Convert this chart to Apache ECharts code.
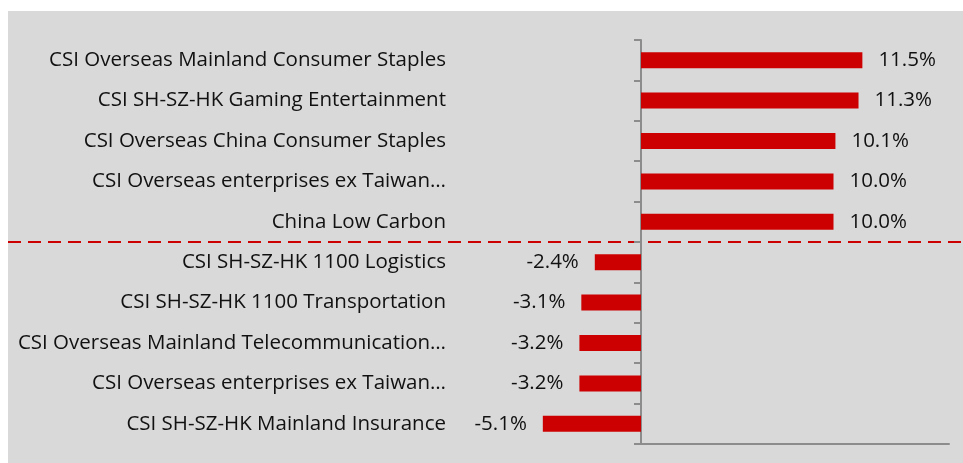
<!DOCTYPE html>
<html><head><meta charset="utf-8">
<script src="https://cdn.jsdelivr.net/npm/echarts@6/dist/echarts.min.js"></script>
<style>
html,body{margin:0;padding:0;background:#fff;width:963px;height:463px;overflow:hidden;}
#c{position:absolute;left:8px;top:11px;width:955px;height:452px;background:#d9d9d9;}
</style></head><body>
<div id="c"></div>
<script>
const categories = [
  "CSI Overseas Mainland Consumer Staples",
  "CSI SH-SZ-HK Gaming Entertainment",
  "CSI Overseas China Consumer Staples",
  "CSI Overseas enterprises ex Taiwan…",
  "China Low Carbon",
  "CSI SH-SZ-HK 1100 Logistics",
  "CSI SH-SZ-HK 1100 Transportation",
  "CSI Overseas Mainland Telecommunication…",
  "CSI Overseas enterprises ex Taiwan…",
  "CSI SH-SZ-HK Mainland Insurance"
];
const values = [11.5, 11.3, 10.1, 10.0, 10.0, -2.4, -3.1, -3.2, -3.2, -5.1];
const dividerAfter = 4; // dashed line between the 5th and 6th category

const FONT = "Open Sans";
const FS = 20.5;
const chart = echarts.init(document.getElementById('c'));
const data = values.map(v => ({
  value: v,
  label: { position: v < 0 ? 'left' : 'right' }
}));
chart.setOption({
  animation: false,
  textStyle: { fontFamily: FONT },
  grid: [
    { left: 479, right: 14, top: 29, bottom: 19, containLabel: false, outerBoundsMode: 'none' },
    { left: 633, right: 14, top: 29, bottom: 19, containLabel: false, outerBoundsMode: 'none' }
  ],
  xAxis: [
    { gridIndex: 0, type: 'value', min: -8, max: 16, show: false },
    { gridIndex: 1, type: 'value', min: 0, max: 16,
      axisLine: { show: true, lineStyle: { color: '#8c8c8c', width: 2 } },
      axisTick: { show: false }, axisLabel: { show: false }, splitLine: { show: false } }
  ],
  yAxis: [
    { gridIndex: 0, type: 'category', data: categories, inverse: true,
      axisLine: { show: true, onZero: true, lineStyle: { color: '#8c8c8c', width: 2 } },
      axisTick: { show: true, length: 7, lineStyle: { color: '#8c8c8c', width: 2 } },
      axisLabel: { margin: 41, color: '#111', fontSize: FS, fontFamily: FONT },
      splitLine: { show: false } },
    { gridIndex: 1, type: 'category', data: categories, show: false }
  ],
  series: [{
    type: 'bar',
    xAxisIndex: 0, yAxisIndex: 0,
    data: data,
    barWidth: 16,
    itemStyle: { color: '#cc0000' },
    label: { show: true, distance: 16, color: '#111', fontSize: FS, fontFamily: FONT,
      formatter: p => p.value.toFixed(1) + '%' }
  }]
});
// dashed divider between groups, located through the category axis
const y1 = chart.convertToPixel({ yAxisIndex: 0 }, categories[dividerAfter]);
const y2 = chart.convertToPixel({ yAxisIndex: 0 }, dividerAfter + 1);
const yd = Math.round((y1 + y2) / 2);
chart.setOption({
  graphic: [{
    type: 'line', silent: true,
    shape: { x1: 0, y1: yd, x2: chart.getWidth(), y2: yd },
    style: { stroke: '#cc0000', lineWidth: 2, lineDash: [13, 7] }
  }]
});
</script></body></html>
